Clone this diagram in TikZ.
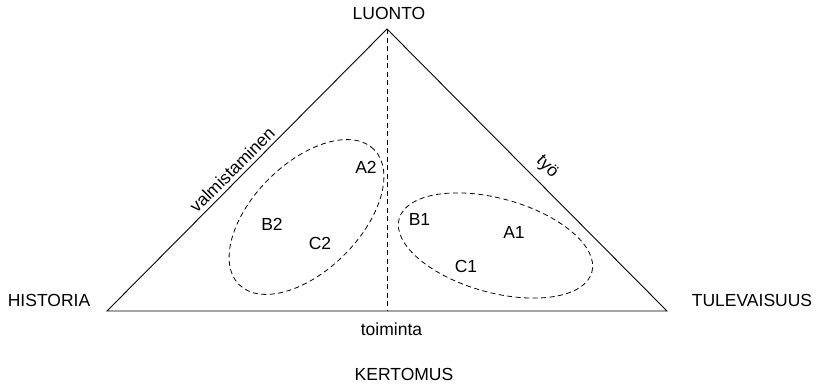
\documentclass[tikz,border=0pt]{standalone}
\usepackage{fontspec}
\setmainfont{Liberation Sans}
\begin{document}
\begin{tikzpicture}[x=1pt,y=1pt,
  lbl/.style={inner sep=0pt,font=\fontsize{17.5}{20}\selectfont},
  edge/.style={line width=0.9pt},
  dashline/.style={line width=0.8pt,dash pattern=on 5pt off 3.5pt}]
\useasboundingbox (0,0) rectangle (819,384);
\coordinate (top) at (387,355);
\coordinate (left) at (107,73);
\coordinate (right) at (667,73);
\coordinate (bottom) at (387,73);
\draw[edge] (left) -- (top) -- (right) -- cycle;
\draw[dashline] (top) -- (bottom);
\draw[dashline] (306.5,167) ellipse [x radius=95.5, y radius=53.5, rotate=45];
\draw[dashline] (495.5,138.5) ellipse [x radius=100, y radius=47, rotate=-15.5];
\node[lbl,anchor=base] (luonto) at (389,364) {LUONTO};
\node[lbl,anchor=base] (historia) at (49,78) {HISTORIA};
\node[lbl,anchor=base] (tulevaisuus) at (752,78) {TULEVAISUUS};
\node[lbl,anchor=base] (toiminta) at (391.5,49) {toiminta};
\node[lbl,anchor=base] (kertomus) at (404,4) {KERTOMUS};
\node[lbl,rotate=45] (valm) at (232,214) {valmistaminen};
\node[lbl,rotate=-45] (tyo) at (547,217) {työ};
\node[lbl] (a2) at (366,217) {A2};
\node[lbl] (b2) at (272,160) {B2};
\node[lbl] (c2) at (320,141) {C2};
\node[lbl] (b1) at (419.5,165) {B1};
\node[lbl] (a1) at (514,152) {A1};
\node[lbl] (c1) at (466,117.5) {C1};
\end{tikzpicture}
\end{document}
